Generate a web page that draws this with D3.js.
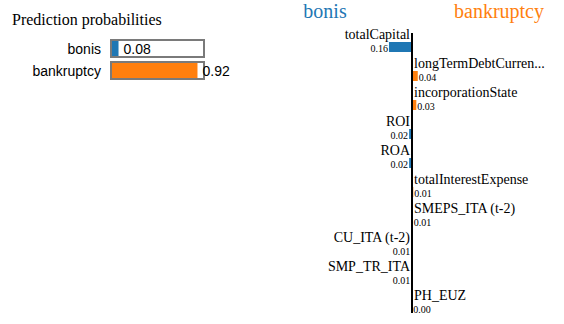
<!DOCTYPE html>
<html>
<head>
<meta charset="utf-8">
<script src="https://cdn.jsdelivr.net/npm/d3@7"></script>
<style>
  html, body { margin: 0; padding: 0; background: #fff; }
  svg { display: block; }
</style>
</head>
<body>
<svg id="chart" width="564" height="324"></svg>
<script>
// ---- data ----
const classNames = ["bonis", "bankruptcy"];
const classProbs = [0.08, 0.92];
const featureNames = ["totalCapital", "longTermDebtCurren...", "incorporationState", "ROI", "ROA",
  "totalInterestExpense", "SMEPS_ITA (t-2)", "CU_ITA (t-2)", "SMP_TR_ITA", "PH_EUZ"];
const featureWeights = [-0.16, 0.04, 0.03, -0.02, -0.02, 0.009, 0.006, -0.005, -0.005, 0.002];
const classColors = ["#1f77b4", "#ff7f0e"];

const svg = d3.select("#chart");
const SERIF = "Liberation Serif";
const SANS = "Liberation Sans";

// ---- prediction probabilities ----
{
  const g = svg.append("g").attr("transform", "translate(0,5)");
  const barX = 111, barW = 94, barH = 17, gap = 5, yShift = 35;
  const x = d3.scaleLinear().domain([0, 1]).range([0, barW]);
  const y = i => (barH + gap) * i + yShift;
  g.append("text").text("Prediction probabilities").attr("x", 12).attr("y", 20)
    .style("font-family", SERIF).style("font-size", "16px").attr("fill", "#000");
  classNames.forEach((name, i) => {
    g.append("rect").attr("x", barX).attr("y", y(i)).attr("height", barH)
      .attr("width", x(classProbs[i])).style("fill", classColors[i]);
    g.append("rect").attr("x", barX).attr("y", y(i)).attr("height", barH)
      .attr("width", barW - 1).attr("fill-opacity", 0).attr("stroke", "#7a7a7a").attr("stroke-width", 2);
    g.append("text").attr("x", barX + x(classProbs[i]) + 5).attr("y", y(i) + barH - 3)
      .style("font-family", SANS).style("font-size", "14px").attr("fill", "black").text(classProbs[i].toFixed(2));
    g.append("text").attr("x", barX - 10).attr("y", y(i) + barH - 3)
      .attr("text-anchor", "end").style("font-family", SANS).style("font-size", "14px")
      .attr("fill", "black").text(name);
  });
}

// ---- explanation bar chart ----
{
  const svgW = 348;
  const g = svg.append("g").attr("transform", "translate(238,3)");
  const barWidth = svgW / 2 - 30;
  const xOff = svgW / 2;
  g.append("text").attr("x", svgW / 4).attr("y", 15).style("font-size", "20px")
    .attr("text-anchor", "middle").style("font-family", SERIF).style("fill", classColors[0]).text(classNames[0]);
  g.append("text").attr("x", svgW / 4 * 3).attr("y", 15).style("font-size", "20px")
    .attr("text-anchor", "middle").style("font-family", SERIF).style("fill", classColors[1]).text(classNames[1]);
  const yshift = 20, textH = 16, spaceBT = 3, barH = 10;
  const total = textH + spaceBT + barH;
  const n = featureNames.length;
  const yscale = d3.scaleLinear().domain([0, n]).range([yshift, yshift + total * n]);
  const maxW = d3.max(featureWeights, v => Math.abs(v));
  const xscale = d3.scaleLinear().domain([0, Math.max(1, maxW)]).range([0, barWidth]);
  featureNames.forEach((name, i) => {
    const w = featureWeights[i];
    const size = xscale(Math.abs(w));
    const right = w > 0;
    g.append("text").attr("x", right ? xOff + 2 : xOff - 2).attr("y", yscale(i) + textH)
      .attr("text-anchor", right ? "start" : "end").style("font-size", "14px")
      .style("font-family", SERIF).text(name);
    g.append("rect").attr("height", barH).attr("x", right ? xOff : xOff - size)
      .attr("y", textH + yscale(i) + spaceBT).attr("width", size)
      .style("fill", right ? classColors[1] : classColors[0]);
    g.append("text").attr("x", right ? xOff + size + 1 : xOff - size - 1)
      .attr("text-anchor", right ? "start" : "end")
      .attr("y", barH + yscale(i) + textH + spaceBT).style("font-size", "10px")
      .style("font-family", SERIF).text(Math.abs(w).toFixed(2));
  });
  g.append("line").attr("x1", xOff).attr("x2", xOff)
    .attr("y1", barH + yshift).attr("y2", yscale(n))
    .style("stroke-width", 2).style("stroke", "black");
}
</script>
</body>
</html>
